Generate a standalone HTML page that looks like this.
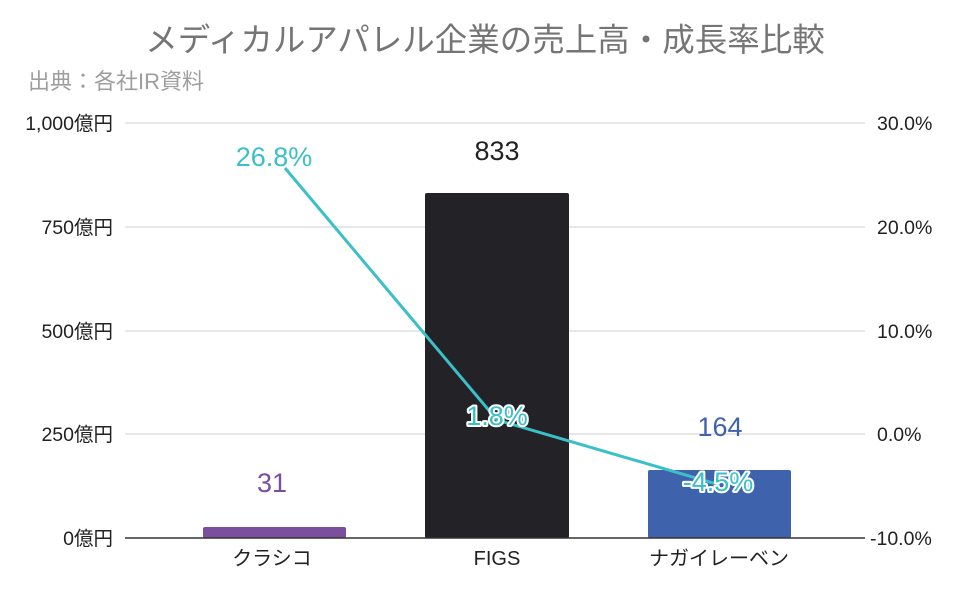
<!DOCTYPE html>
<html><head><meta charset="utf-8"><style>body{margin:0;background:#fff}</style></head><body>
<svg width="968" height="595" xmlns="http://www.w3.org/2000/svg" font-family="Liberation Sans, Noto Sans CJK JP, sans-serif">
<rect width="968" height="595" fill="#fff"/>
<text x="485" y="51" text-anchor="middle" font-size="32.5" fill="#757575">メディカルアパレル企業の売上高・成長率比較</text>
<text x="28" y="89" font-size="22" fill="#9e9e9e">出典：各社IR資料</text>
<g stroke="#cfcfcf" stroke-width="1">
<line x1="125" y1="123" x2="865" y2="123"/><line x1="125" y1="227" x2="865" y2="227"/>
<line x1="125" y1="331" x2="865" y2="331"/><line x1="125" y1="434" x2="865" y2="434"/>
</g>
<g font-size="19.5" fill="#222" text-anchor="end">
<text x="113" y="130">1,000億円</text><text x="113" y="234">750億円</text><text x="113" y="338">500億円</text><text x="113" y="441">250億円</text><text x="113" y="545">0億円</text>
</g>
<g font-size="19.5" fill="#222">
<text x="877" y="130">30.0%</text><text x="877" y="234">20.0%</text><text x="877" y="338">10.0%</text><text x="877" y="441">0.0%</text><text x="870" y="545">-10.0%</text>
</g>
<rect x="203" y="527" width="143" height="11" rx="2" fill="#7b4e9e"/>
<rect x="425" y="193" width="144" height="345" rx="2" fill="#232227"/>
<rect x="648" y="470" width="143" height="68" rx="2" fill="#3f62ad"/>
<line x1="125" y1="538" x2="865" y2="538" stroke="#333" stroke-width="1.5"/>
<g font-size="20" fill="#222" text-anchor="middle">
<text x="272" y="565">クラシコ</text><text x="497" y="565">FIGS</text><text x="719" y="565">ナガイレーベン</text>
</g>
<g font-size="27" text-anchor="middle">
<text x="272" y="492" fill="#7b4e9e">31</text>
<text x="497" y="160" fill="#222">833</text>
<text x="720" y="436" fill="#3f62ad">164</text>
</g>
<polyline points="285,168 497,420 720,485" fill="none" stroke="#3bbfc8" stroke-width="3"/>
<g font-size="27" text-anchor="middle" fill="#3bbfc8" stroke="#fff" stroke-width="4" paint-order="stroke" stroke-linejoin="round">
<text x="274" y="166">26.8%</text>
<text x="497" y="425">1.8%</text>
<text x="718" y="491">-4.5%</text>
</g>
</svg>
</body></html>
